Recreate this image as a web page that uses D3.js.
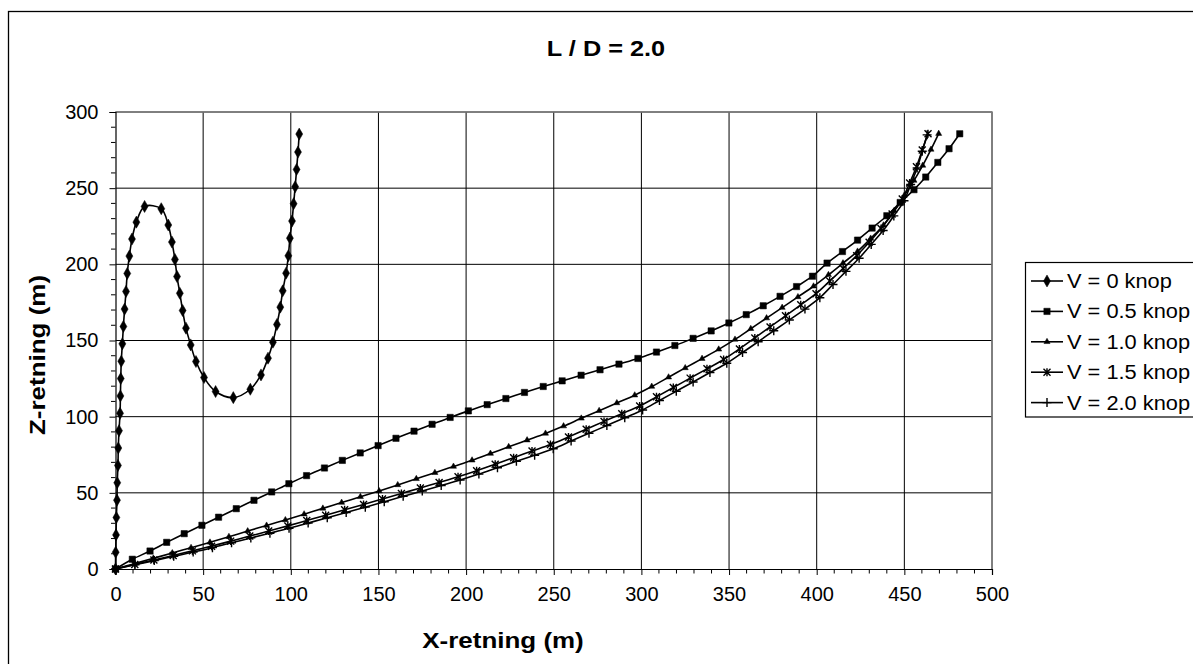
<!DOCTYPE html>
<html><head><meta charset="utf-8">
<script src="https://cdn.jsdelivr.net/npm/d3@7"></script>
<style>
html,body{margin:0;padding:0;background:#fff;}
svg{display:block;font-family:"Liberation Sans",Arial,sans-serif;}
</style></head><body>
<svg id="c" width="1193" height="664"></svg>
<script>
const title = "L / D = 2.0";
const xLabel = "X-retning (m)";
const yLabel = "Z-retning (m)";
const xTicks = [0,50,100,150,200,250,300,350,400,450,500];
const yTicks = [0,50,100,150,200,250,300];
const seriesNames = ["V = 0 knop","V = 0.5 knop","V = 1.0 knop","V = 1.5 knop","V = 2.0 knop"];

const v00 = [[0,0],[0.1,11.0],[0.3,22.4],[0.5,33.8],[0.85,45.2],[1.0,56.6],[1.4,68.0],[1.6,79.4],[2.0,90.8],[2.6,102.2],[2.8,113.6],[3.0,125.0],[3.3,136.4],[3.9,147.8],[4.5,159.2],[5.2,170.6],[6.0,182.2],[6.7,194],[7.9,205.4],[9.4,216.6],[11.9,227.7],[16.6,238],[26.1,236.5],[30.1,225.8],[32.2,214.6],[33.9,203.2],[35.1,192],[36.7,181],[38.3,169.7],[40.2,158.1],[42.9,147.1],[45.9,136.2],[50.5,125.7],[57.1,116.5],[67.2,112.5],[76.9,118.0],[83.0,127.4],[87.0,138.4],[89.8,148.9],[92.1,160.5],[94.0,171.9],[95.4,182.6],[97.3,194.2],[98.6,205.6],[99.5,217.2],[100.7,228.4],[101.6,239.8],[102.5,250.9],[103.3,262.3],[104.1,273.7],[104.8,285.5]];

const v05 = [[0,0],[9.6,6.4],[19.7,11.8],[29.2,17.5],[39.2,23.2],[49.3,28.7],[58.8,34.0],[68.9,39.6],[79.0,45.1],[89.1,50.6],[98.9,56.0],[109.0,61.3],[119.2,66.3],[129.4,71.3],[139.6,76.2],[149.8,81.0],[160.0,85.8],[170.3,90.5],[180.6,95.0],[190.9,99.5],[201.3,103.8],[212.0,107.9],[222.7,111.9],[233.3,115.9],[244.0,119.8],[254.8,123.5],[265.6,127.2],[276.4,130.8],[287.2,134.5],[298.0,138.2],[308.6,142.4],[319.1,146.7],[329.5,151.4],[339.8,156.3],[349.9,161.5],[359.8,167.0],[369.5,172.8],[379.1,179.0],[388.5,185.4],[397.6,192.2],[405.9,200.8],[414.7,208.4],[423.3,215.9],[431.6,223.8],[440.0,231.9],[447.6,240.6],[455.5,249.0],[462.2,257.3],[469.1,266.9],[475.5,275.9],[481.6,285.7]];

const v10 = [[0,0],[10.8,3.5],[21.6,7.0],[32.4,10.5],[43.1,14.0],[53.9,17.5],[64.7,21.2],[75.4,24.9],[86.2,28.6],[96.9,32.2],[107.6,36.0],[118.3,39.8],[129.0,43.6],[139.7,47.4],[150.4,51.2],[161.0,55.2],[171.6,59.2],[182.2,63.2],[192.8,67.3],[203.4,71.4],[213.9,75.8],[224.3,80.2],[234.8,84.6],[245.3,89.0],[255.6,93.8],[265.7,98.9],[275.9,103.9],[286.0,109.0],[296.2,114.1],[305.9,119.8],[315.5,125.9],[325.0,132.0],[334.6,138.1],[344.1,144.2],[353.4,150.7],[362.4,157.7],[371.4,164.7],[380.3,171.6],[389.3,178.6],[398.2,185.6],[406.7,193.1],[415.0,200.8],[423.3,208.5],[430.8,217.0],[438.1,225.7],[444.2,235.2],[449.9,245.1],[455.5,255.0],[460.5,264.9],[465.2,275.4],[469.6,285.8]];

const v15 = [[0,0],[11.0,3.0],[21.9,5.9],[32.9,8.9],[43.9,11.9],[54.8,15.0],[65.7,18.3],[76.6,21.6],[87.4,24.9],[98.3,28.3],[109.1,31.8],[119.9,35.3],[130.7,38.9],[141.5,42.4],[152.3,46.0],[163.1,49.6],[173.9,53.2],[184.6,56.8],[195.4,60.5],[206.0,64.5],[216.6,68.8],[227.1,73.1],[237.6,77.4],[248.1,81.7],[258.4,86.7],[268.5,91.8],[278.7,96.9],[288.8,101.9],[299.0,107.0],[308.6,113.0],[318.2,119.1],[327.8,125.3],[337.4,131.4],[346.9,137.5],[355.9,144.4],[364.7,151.7],[373.4,158.9],[382.2,166.2],[390.9,173.4],[399.6,180.7],[407.4,189.0],[415.1,197.3],[422.8,205.7],[429.9,214.5],[436.7,223.6],[443.0,233.1],[448.8,242.9],[453.0,253.4],[456.9,264.1],[460.2,275.0],[463.5,285.8]];

const v20 = [[0,0],[11.1,2.8],[22.1,5.5],[33.2,8.3],[44.3,11.1],[55.3,14.0],[66.2,17.2],[77.2,20.4],[88.1,23.5],[99.0,26.7],[109.9,30.2],[120.8,33.6],[131.6,37.1],[142.5,40.6],[153.3,44.1],[164.1,47.7],[175.0,51.2],[185.8,54.8],[196.6,58.4],[207.3,62.3],[217.9,66.5],[228.7,70.7],[239.1,74.7],[249.7,78.9],[259.9,84.0],[270.1,89.1],[280.3,94.2],[290.5,99.3],[300.7,104.4],[310.3,110.6],[319.9,116.7],[329.5,122.8],[339.1,129.0],[348.7,135.1],[357.7,142.1],[366.6,149.2],[375.5,156.4],[384.4,163.5],[393.3,170.6],[401.8,178.1],[409.3,186.8],[416.7,195.4],[424.2,204.0],[431.1,213.1],[437.9,222.2],[444.0,231.8],[449.8,241.7],[453.6,252.4],[457.3,263.2],[460.2,274.2],[463,285]];

const seriesData = [v00, v05, v10, v15, v20];
const markerTypes = ["diamond","square","triangle","star","plus"];

const svg = d3.select("#c");
const m = {left:115.5, right:992, top:112, bottom:569};

// chart border
svg.append("rect").attr("x",8.5).attr("y",11.5).attr("width",1300).attr("height",700)
  .attr("fill","#fff").attr("stroke","#000").attr("stroke-width",1.3);

const x = d3.scaleLinear().domain([0,500]).range([m.left,m.right]);
const y = d3.scaleLinear().domain([0,300]).range([m.bottom,m.top]);

const g = svg.append("g");
g.selectAll(".gx").data(xTicks.slice(1)).join("line")
  .attr("x1",d=>x(d)).attr("x2",d=>x(d)).attr("y1",m.top).attr("y2",m.bottom)
  .attr("stroke","#000").attr("stroke-width",1);
g.selectAll(".gy").data(yTicks.slice(1)).join("line")
  .attr("x1",m.left).attr("x2",m.right).attr("y1",d=>y(d)).attr("y2",d=>y(d))
  .attr("stroke","#000").attr("stroke-width",1);
g.append("path").attr("d",`M${m.left},${m.top}H${m.right}V${m.bottom}`)
  .attr("fill","none").attr("stroke","#808080").attr("stroke-width",1.5);

const xAxis = d3.axisBottom(x).tickValues(xTicks).tickSize(6).tickPadding(12).tickFormat(d3.format("d"));
const yAxis = d3.axisLeft(y).tickValues(yTicks).tickSize(6).tickPadding(11).tickFormat(d3.format("d"));
const gx = svg.append("g").attr("transform",`translate(0,${m.bottom})`).call(xAxis);
const gy = svg.append("g").attr("transform",`translate(${m.left},0)`).call(yAxis);
[gx,gy].forEach(a=>{
  a.select(".domain").attr("stroke","#000").attr("stroke-width",1.2);
  a.selectAll(".tick line").attr("stroke","#000");
  a.selectAll("text").attr("fill","#000").style("font-size","20px").style("font-family","'Liberation Sans',Arial,sans-serif");
});
const xMinor = d3.range(0,501,10).filter(v=>v%50!==0);
const yMinor = d3.range(0,301,10).filter(v=>v%50!==0);
svg.append("g").selectAll("line").data(xMinor).join("line")
  .attr("x1",d=>x(d)).attr("x2",d=>x(d)).attr("y1",m.bottom).attr("y2",m.bottom+4.5).attr("stroke","#000");
svg.append("g").selectAll("line").data(yMinor).join("line")
  .attr("y1",d=>y(d)).attr("y2",d=>y(d)).attr("x1",m.left).attr("x2",m.left-4.5).attr("stroke","#000");

const line = d3.line().x(d=>x(d[0])).y(d=>y(d[1])).curve(d3.curveCatmullRom.alpha(0.5));
const sg = svg.append("g");
seriesData.forEach(s=>{
  sg.append("path").datum(s).attr("d",line).attr("fill","none").attr("stroke","#000").attr("stroke-width",1.6);
});

function markerPath(t){
  switch(t){
    case "diamond": return d3.symbol(d3.symbolDiamond,42)();
    case "square": return d3.symbol(d3.symbolSquare,40)();
    case "triangle": return d3.symbol(d3.symbolTriangle,16)();
    case "star": return "M-3.5,-3.5L3.5,3.5M-3.5,3.5L3.5,-3.5M0,-4V4";
    case "plus": return "M-4.5,0H4.5M0,-4.5V4.5";
  }
}
function drawMarker(sel,t){
  const stroked = (t==="star"||t==="plus");
  sel.attr("d",markerPath(t))
    .attr("fill",stroked?"none":"#000")
    .attr("stroke","#000").attr("stroke-width",stroked?1.4:0.5);
}
seriesData.forEach((s,i)=>{
  drawMarker(sg.append("g").selectAll("path").data(s).join("path")
    .attr("transform",d=>`translate(${x(d[0])},${y(d[1])})`), markerTypes[i]);
});

function stretch(sel, factor){
  const n = sel.node().getComputedTextLength();
  sel.attr("textLength", n*factor).attr("lengthAdjust","spacingAndGlyphs");
}
stretch(svg.append("text").attr("x",606).attr("y",56).attr("text-anchor","middle")
  .style("font-size","22px").style("font-weight","bold").text(title), 1.15);
stretch(svg.append("text").attr("x",503).attr("y",648).attr("text-anchor","middle")
  .style("font-size","22px").style("font-weight","bold").text(xLabel), 1.18);
stretch(svg.append("text").attr("transform","translate(45,355) rotate(-90)").attr("text-anchor","middle")
  .style("font-size","22px").style("font-weight","bold").text(yLabel), 1.18);

const lg = svg.append("g");
lg.append("rect").attr("x",1025.5).attr("y",262.5).attr("width",300).attr("height",154.5)
  .attr("fill","#fff").attr("stroke","#000").attr("stroke-width",1.2);
seriesNames.forEach((n,i)=>{
  const cy = 281 + i*30.4;
  lg.append("line").attr("x1",1031).attr("x2",1063).attr("y1",cy).attr("y2",cy).attr("stroke","#000").attr("stroke-width",1.6);
  drawMarker(lg.append("path").attr("transform",`translate(1047,${cy})`), markerTypes[i]);
  stretch(lg.append("text").attr("x",1067).attr("y",cy+7).style("font-size","20px").text(n), 1.09);
});
</script>
</body></html>
